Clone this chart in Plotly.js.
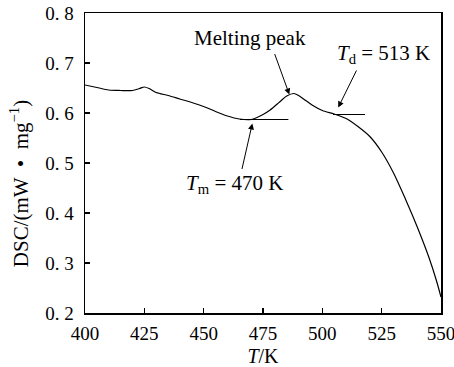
<!DOCTYPE html>
<html>
<head>
<meta charset="utf-8">
<script src="https://cdn.plot.ly/plotly-3.0.1.min.js"></script>
<style>html,body{margin:0;padding:0;background:#fff;}#chart{width:454px;height:367px;}</style>
</head>
<body>
<div id="chart"></div>
<script>
// DSC curve (T in K, DSC in mW/mg)
const temperature = [400, 405, 410, 415, 420, 423, 425, 427, 430, 435, 440, 445, 450, 455, 460, 465, 470, 475, 478, 482, 485, 488, 490, 493, 496, 500, 505, 510, 515, 520, 525, 530, 535, 540, 545, 548, 550];
const dsc = [0.656, 0.651, 0.646, 0.645, 0.645, 0.649, 0.652, 0.649, 0.641, 0.635, 0.628, 0.621, 0.613, 0.603, 0.594, 0.588, 0.587, 0.597, 0.606, 0.622, 0.634, 0.639, 0.635, 0.625, 0.615, 0.605, 0.598, 0.589, 0.573, 0.553, 0.522, 0.480, 0.428, 0.372, 0.310, 0.266, 0.232];

// baselines
const baseMeltX = [465.3, 485.7];
const baseMeltY = [0.587, 0.587];
const baseDecX = [504.5, 518];
const baseDecY = [0.597, 0.597];

// ticks
const xTicks = [400, 425, 450, 475, 500, 525, 550];
const xTickText = ["400", "425", "450", "475", "500", "525", "550"];
const yTicks = [0.2, 0.3, 0.4, 0.5, 0.6, 0.7, 0.8];
const yTickText = ["0. 2", "0. 3", "0. 4", "0. 5", "0. 6", "0. 7", "0. 8"];

const serif = "Liberation Serif";
const black = "#000";

const traces = [
  {x: temperature, y: dsc, mode: "lines", line: {color: black, width: 1.2, shape: "spline", smoothing: 0.8}, hoverinfo: "skip"},
  {x: baseMeltX, y: baseMeltY, mode: "lines", line: {color: black, width: 1.2}, hoverinfo: "skip"},
  {x: baseDecX, y: baseDecY, mode: "lines", line: {color: black, width: 1.2}, hoverinfo: "skip"}
];

const arrowCommon = {xref: "x", yref: "y", axref: "x", ayref: "y", text: "", showarrow: true,
  arrowhead: 2, arrowsize: 1.2, arrowwidth: 1, arrowcolor: black};

const layout = {
  width: 454, height: 367,
  margin: {l: 85, r: 13, t: 13, b: 54},
  paper_bgcolor: "#fff", plot_bgcolor: "#fff",
  showlegend: false,
  font: {family: serif, size: 18, color: black},
  xaxis: {
    range: [400, 550], tickvals: xTicks, ticktext: xTickText,
    ticks: "inside", ticklen: 5, tickwidth: 1.3, tickcolor: black,
    showline: true, linewidth: 1.5, linecolor: black, mirror: true,
    showgrid: false, zeroline: false,
    tickfont: {family: serif, size: 19, color: black},
    ticklabelstandoff: 3, ticklabeloverflow: "allow",
    title: {text: "<i>T</i>/K", font: {family: serif, size: 20, color: black}, standoff: 6}
  },
  yaxis: {
    range: [0.2, 0.8], tickvals: yTicks, ticktext: yTickText,
    ticks: "inside", ticklen: 5, tickwidth: 1.3, tickcolor: black,
    showline: true, linewidth: 1.5, linecolor: black, mirror: true,
    showgrid: false, zeroline: false,
    tickfont: {family: serif, size: 19, color: black},
    ticklabelstandoff: 6, ticklabeloverflow: "allow"
  },
  annotations: [
    {xref: "paper", yref: "paper", x: -0.185, y: 0.43, text: "DSC/(mW  •  mg<sup>−1</sup>)", textangle: -90,
     showarrow: false, font: {family: serif, size: 21, color: black}, xanchor: "center", yanchor: "middle"},
    {xref: "x", yref: "y", x: 469.5, y: 0.751, text: "Melting peak", showarrow: false,
     font: {family: serif, size: 21, color: black}, xanchor: "center", yanchor: "middle"},
    {xref: "x", yref: "y", x: 525.8, y: 0.719, text: "<i>T</i><sub>d</sub> = 513 K", showarrow: false,
     font: {family: serif, size: 21, color: black}, xanchor: "center", yanchor: "middle"},
    {xref: "x", yref: "y", x: 463.2, y: 0.459, text: "<i>T</i><sub>m</sub> = 470 K", showarrow: false,
     font: {family: serif, size: 21, color: black}, xanchor: "center", yanchor: "middle"},
    Object.assign({x: 486.1, y: 0.637, ax: 479.7, ay: 0.721}, arrowCommon),
    Object.assign({x: 506.7, y: 0.611, ax: 514.7, ay: 0.688}, arrowCommon),
    Object.assign({x: 470.5, y: 0.579, ax: 466, ay: 0.485}, arrowCommon)
  ]
};

Plotly.newPlot("chart", traces, layout, {staticPlot: true, displayModeBar: false});
</script>
</body>
</html>
